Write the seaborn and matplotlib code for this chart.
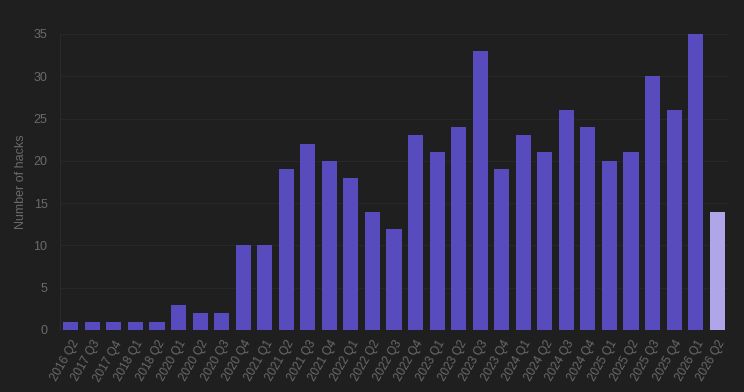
import matplotlib
matplotlib.use("Agg")
import matplotlib.pyplot as plt
import seaborn as sns
import pandas as pd

quarters = ["2016 Q2", "2017 Q3", "2017 Q4", "2018 Q1", "2018 Q2", "2020 Q1", "2020 Q2",
            "2020 Q3", "2020 Q4", "2021 Q1", "2021 Q2", "2021 Q3", "2021 Q4", "2022 Q1",
            "2022 Q2", "2022 Q3", "2022 Q4", "2023 Q1", "2023 Q2", "2023 Q3", "2023 Q4",
            "2024 Q1", "2024 Q2", "2024 Q3", "2024 Q4", "2025 Q1", "2025 Q2", "2025 Q3",
            "2025 Q4", "2026 Q1", "2026 Q2"]
hacks = [1, 1, 1, 1, 1, 3, 2, 2, 10, 10, 19, 22, 20, 18, 14, 12, 23, 21, 24, 33, 19,
         23, 21, 26, 24, 20, 21, 30, 26, 35, 14]
# le dernier trimestre est en cours -> couleur plus claire
status = ["done"] * (len(quarters) - 1) + ["current"]

df = pd.DataFrame({"quarter": quarters, "hacks": hacks, "status": status})

bg = "#1f1f1f"
txt = "#6a6a6a"

sns.set_style("dark")
plt.rcParams["font.family"] = ["Liberation Sans", "DejaVu Sans"]

fig = plt.figure(figsize=(7.44, 3.92), dpi=100, facecolor=bg)
ax = fig.add_axes([60 / 744, 1 - 330 / 392, 668 / 744, 296 / 392])
ax.set_facecolor(bg)

sns.barplot(data=df, x="quarter", y="hacks", hue="status",
            palette={"done": "#574bbd", "current": "#aea6e8"},
            width=0.7, dodge=False, legend=False, saturation=1,
            linewidth=0, edgecolor="none", ax=ax)

ax.set_ylim(0, 35)
ax.set_yticks(range(0, 36, 5))
ax.set_xlim(-0.5, len(quarters) - 0.5)
ax.grid(axis="y", color="#272727", linewidth=0.8)
ax.grid(axis="x", visible=False)
ax.set_axisbelow(True)
for s in ax.spines.values():
    s.set_visible(False)
ax.axvline(-0.5, color="#2a2a2a", linewidth=0.8)

ax.tick_params(axis="both", length=0, colors=txt, labelsize=9)
ax.tick_params(axis="y", pad=9)
ax.tick_params(axis="x", pad=6, labelsize=8.5)
plt.setp(ax.get_xticklabels(), rotation=60, ha="right", rotation_mode="anchor")
ax.set_xlabel("")
ax.set_ylabel("Number of hacks", color=txt, fontsize=9)
ax.yaxis.set_label_coords(-0.049, 0.5)

fig.savefig("out.png", dpi=100, facecolor=bg)
